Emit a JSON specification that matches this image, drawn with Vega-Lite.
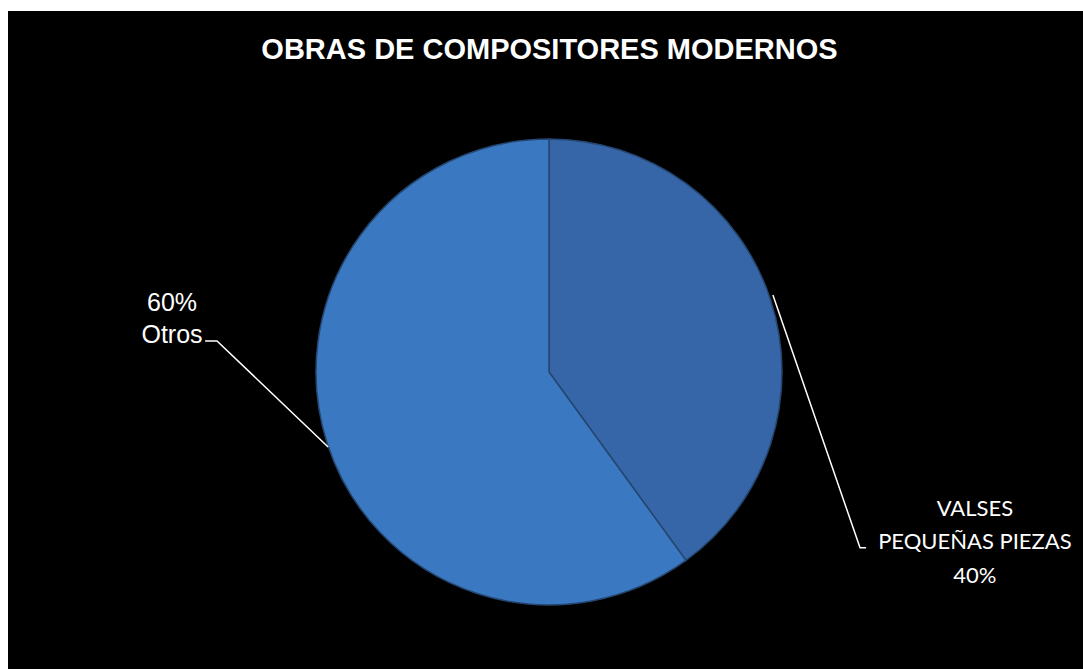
{
  "$schema": "https://vega.github.io/schema/vega-lite/v6.json",
  "width": 1075,
  "height": 658,
  "autosize": {"type": "none"},
  "padding": {"left": 8, "top": 11, "right": 0, "bottom": 0},
  "background": "white",
  "config": {"view": {"fill": "black", "stroke": null}},
  "title": {
    "text": "OBRAS DE COMPOSITORES MODERNOS",
    "anchor": "middle",
    "frame": "group",
    "orient": "top",
    "offset": -54,
    "dx": 4,
    "font": "Liberation Sans",
    "fontSize": 29,
    "fontWeight": "bold",
    "color": "white"
  },
  "datasets": {
    "slices": [
      {"label": "VALSES PEQUEÑAS PIEZAS", "value": 40, "ord": 1},
      {"label": "Otros", "value": 60, "ord": 2}
    ],
    "leaders": [
      {"label": "Otros", "i": 1, "px": -0.948, "py": -0.322},
      {"label": "Otros", "i": 2, "px": -1.425, "py": 0.133},
      {"label": "Otros", "i": 3, "px": -1.476, "py": 0.133},
      {"label": "VALSES", "i": 1, "px": 0.961, "py": 0.330},
      {"label": "VALSES", "i": 2, "px": 1.335, "py": -0.755},
      {"label": "VALSES", "i": 3, "px": 1.361, "py": -0.755}
    ],
    "labels": [
      {"label": "Otros", "lines": ["60%", "Otros"], "px": -1.618, "py": 0.296},
      {"label": "VALSES", "lines": ["VALSES", "PEQUEÑAS PIEZAS", "40%"], "px": 1.828, "py": -0.588}
    ]
  },
  "layer": [
    {
      "data": {"name": "slices"},
      "mark": {"type": "arc", "outerRadius": 233, "stroke": "#24466f", "strokeWidth": 1.5},
      "encoding": {
        "theta": {"field": "value", "type": "quantitative", "stack": true},
        "order": {"field": "ord", "type": "quantitative"},
        "color": {
          "field": "label",
          "type": "nominal",
          "scale": {"domain": ["VALSES PEQUEÑAS PIEZAS", "Otros"], "range": ["#3665a8", "#3b78c2"]},
          "legend": null
        },
        "x": {"datum": 0, "type": "quantitative", "scale": {"domain": [-2.322, 2.292], "nice": false, "zero": false}, "axis": null},
        "y": {"datum": 0, "type": "quantitative", "scale": {"domain": [-1.275, 1.549], "nice": false, "zero": false}, "axis": null}
      }
    },
    {
      "data": {"name": "leaders"},
      "mark": {"type": "line", "color": "white", "strokeWidth": 1.5},
      "encoding": {
        "x": {"field": "px", "type": "quantitative", "axis": null},
        "y": {"field": "py", "type": "quantitative", "axis": null},
        "detail": {"field": "label"},
        "order": {"field": "i", "type": "quantitative"}
      }
    },
    {
      "data": {"name": "labels"},
      "transform": [{"filter": "datum.label === 'Otros'"}],
      "mark": {"type": "text", "color": "white", "font": "Liberation Sans", "fontSize": 25, "align": "center", "baseline": "middle", "lineHeight": 32},
      "encoding": {
        "x": {"field": "px", "type": "quantitative", "axis": null},
        "y": {"field": "py", "type": "quantitative", "axis": null},
        "text": {"field": "lines"}
      }
    },
    {
      "data": {"name": "labels"},
      "transform": [{"filter": "datum.label === 'VALSES'"}],
      "mark": {"type": "text", "color": "white", "font": "Lato", "fontSize": 22, "align": "center", "baseline": "middle", "lineHeight": 33.5},
      "encoding": {
        "x": {"field": "px", "type": "quantitative", "axis": null},
        "y": {"field": "py", "type": "quantitative", "axis": null},
        "text": {"field": "lines"}
      }
    }
  ],
  "resolve": {"scale": {"x": "shared", "y": "shared"}}
}
